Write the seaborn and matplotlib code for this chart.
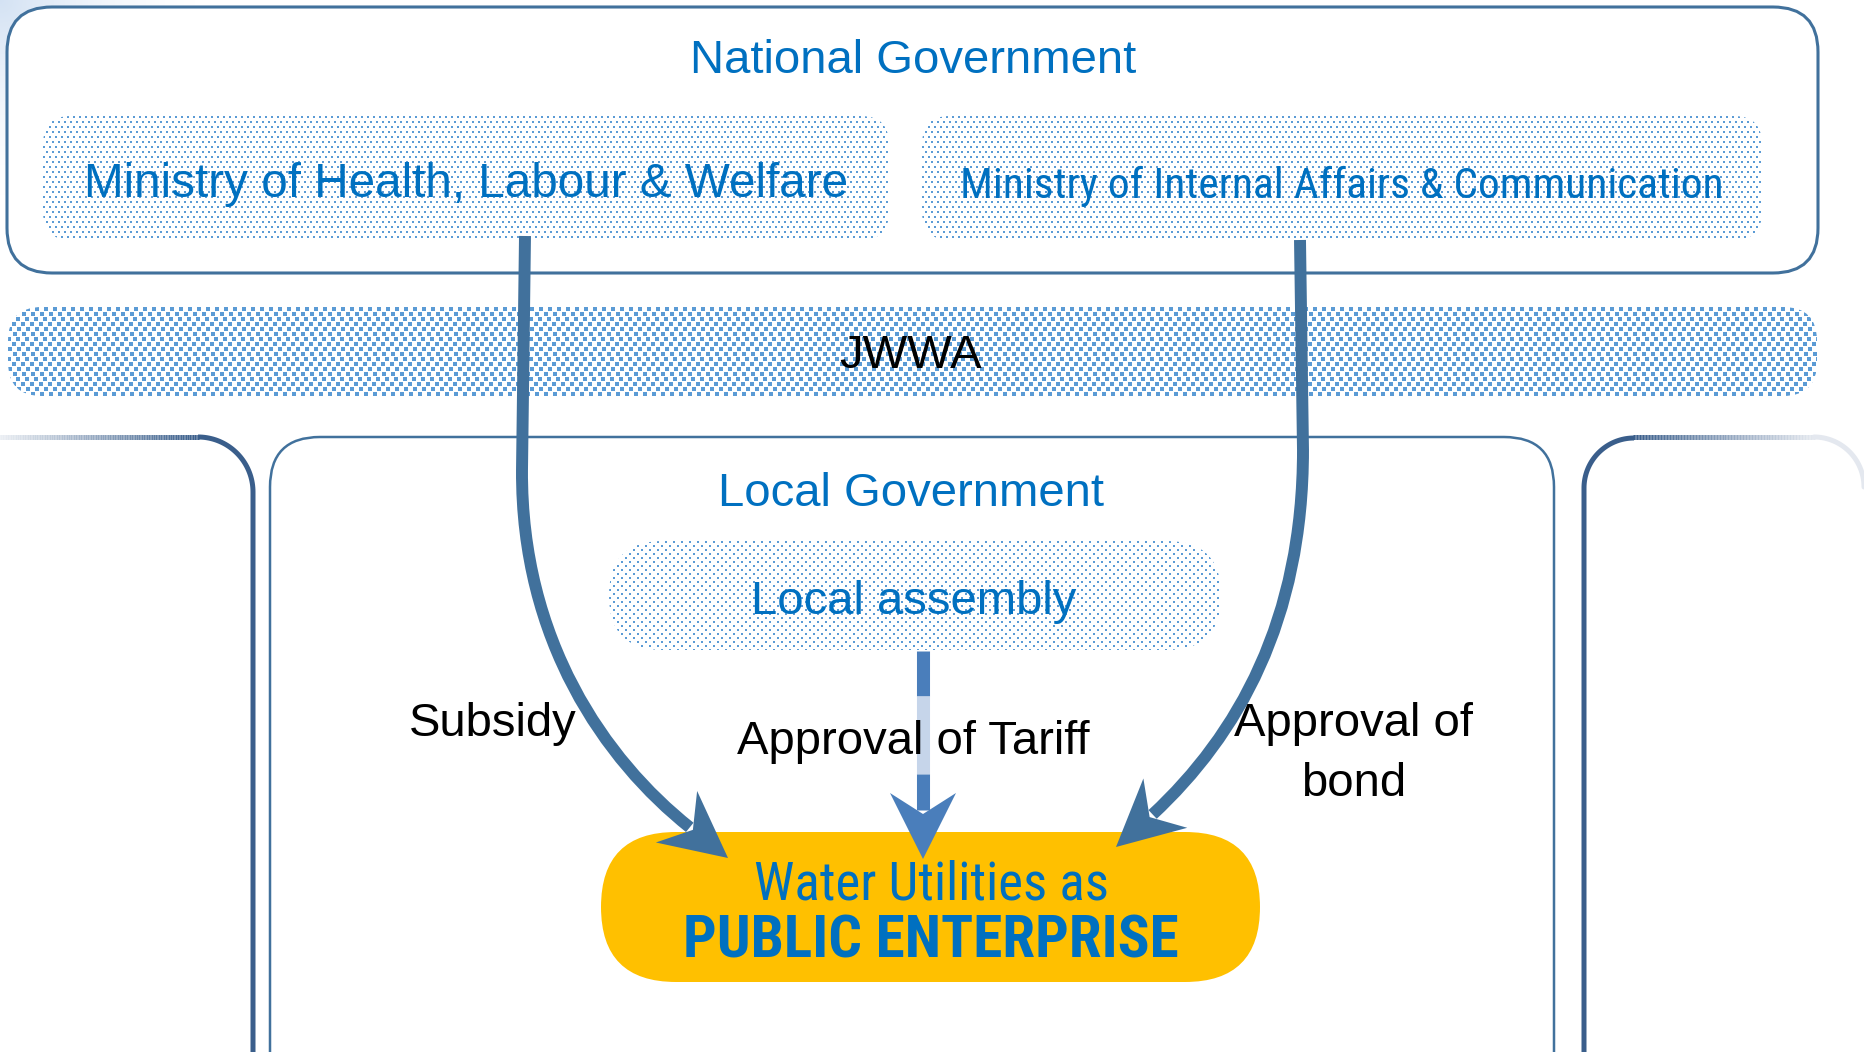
import numpy as np
import matplotlib
matplotlib.use("Agg")
import matplotlib.pyplot as plt
import seaborn as sns
from matplotlib import font_manager
from matplotlib.patches import FancyBboxPatch, Polygon, PathPatch
from matplotlib.path import Path
from matplotlib.collections import LineCollection

# texts of the diagram
national_title = "National Government"
ministries = ["Ministry of Health, Labour & Welfare",
              "Ministry of Internal Affairs & Communication"]
association = "JWWA"
local_title = "Local Government"
assembly = "Local assembly"
utility_lines = ["Water Utilities as", "PUBLIC ENTERPRISE"]
flow_labels = ["Subsidy", "Approval of Tariff", "Approval of\nbond"]

# colours
blue_text = "#0070c0"
frame_col = "#41719c"
dot_col = "#5b9bd5"
arrow_col = "#41719c"
mid_dark = "#4a7ebb"
mid_light = "#c6d5ea"
gold = "#ffc000"
side_dark = "#3a5e8b"

sns.set_theme(style="white")
plt.rcParams["font.family"] = ["Liberation Sans", "DejaVu Sans"]

# a narrow face if one is installed, otherwise the regular one squeezed by size
installed = {f.name for f in font_manager.fontManager.ttflist}
NARROW = ["Liberation Sans"]
for cand in ["Liberation Sans Narrow", "Arial Narrow", "Roboto Condensed", "Open Sans Condensed"]:
    if cand in installed:
        NARROW = [cand, "Liberation Sans"]
        break

fig = plt.figure(figsize=(18.64, 10.52), dpi=100)
ax = fig.add_axes([0, 0, 1, 1])


def rbox(x0, y0, x1, y1, r, **kw):
    p = FancyBboxPatch((x0, y0), x1 - x0, y1 - y0,
                       boxstyle=f"round,pad=0,rounding_size={r}", **kw)
    ax.add_patch(p)
    return p


def texture(w, h, kind):
    yy, xx = np.mgrid[0:h, 0:w]
    if kind == "dots":
        row = yy // 5
        on = ((yy % 5) < 2) & (((xx + 3 * (row % 2)) % 6) < 2)
    elif kind == "fine":
        row = yy // 4
        on = ((yy % 4) < 2) & (((xx + 4 * (row % 2)) % 8) < 2)
    else:
        row = yy // 5
        on = ((yy % 5) < 4) & (((xx + 4 * (row % 2) + (row // 2) % 2) % 9) < 4)
    img = np.zeros((h, w, 4))
    img[on] = matplotlib.colors.to_rgba(dot_col)
    return img


def patterned(x0, y0, x1, y1, r, kind, z=2):
    p = rbox(x0, y0, x1, y1, r, fc="white", ec="none", zorder=z)
    im = ax.imshow(texture(int(x1 - x0), int(y1 - y0), kind),
                   extent=(x0, x1, y1, y0), interpolation="nearest", zorder=z + 0.1)
    im.set_clip_path(p)


def head(tip, d, color, length=66, half=33, notch=45):
    d = np.asarray(d, float)
    d /= np.hypot(*d)
    p = np.array([-d[1], d[0]])
    tip = np.asarray(tip, float)
    base = tip - length * d
    ax.add_patch(Polygon([tip, base + half * p, tip - notch * d, base - half * p],
                         closed=True, fc=color, ec="none", zorder=6))
    return tip - (notch + 4) * d


# soft glow in the top-left corner
gy, gx = np.mgrid[0:220, 0:220]
glow = np.zeros((220, 220, 4))
glow[..., :3] = matplotlib.colors.to_rgb("#c9dbf1")
glow[..., 3] = np.clip(1 - np.hypot(gx, gy) / 200, 0, 1) ** 1.5 * 0.8
ax.imshow(glow, extent=(0, 220, 220, 0), zorder=0)

# national government frame
rbox(7, 7, 1818, 273, 45, fc="white", ec=frame_col, lw=2.2, zorder=1)
patterned(43, 116, 889, 240, 28, "dots")
patterned(922, 116, 1762, 240, 28, "dots")

# JWWA band
patterned(8, 307, 1817, 396, 34, "squares")

# local government frame
rbox(270, 437, 1554, 1120, 50, fc="white", ec=frame_col, lw=1.8, zorder=1)
patterned(609, 541, 1221, 650, 54, "fine")


# side frames, top edges fading outwards
def fade_line(x0, x1, y, c0, c1, n=120):
    xs = np.linspace(x0, x1, n + 1)
    segs = [[(xs[i], y), (xs[i + 1], y)] for i in range(n)]
    cols = sns.blend_palette([c0, c1], n)
    ax.add_collection(LineCollection(segs, colors=cols, linewidths=3.6,
                                     capstyle="butt", zorder=2))


r = 55
t = np.linspace(0, np.pi / 2, 40)
ax.plot(np.r_[198 + r * np.sin(t), 253], np.r_[492 - r * np.cos(t), 1100],
        color=side_dark, lw=3.6, solid_capstyle="butt", zorder=2)
fade_line(-5, 199, 437, "#eef1f5", side_dark)

r = 50
ax.plot(np.r_[1584, 1634 - r * np.sin(t[::-1])], np.r_[1100, 488 - r * np.cos(t[::-1])],
        color=side_dark, lw=3.6, solid_capstyle="butt", zorder=2)
fade_line(1633, 1815, 437, side_dark, "#e4e8ef")
ax.plot(1814 + r * np.sin(t), 487 - r * np.cos(t), color="#e4e8ef", lw=3.6, zorder=2)

# utility pill
rbox(601, 832, 1260, 982, 75, fc=gold, ec="none", zorder=3)

# curved arrows
end_l = head((728, 858), (0.78, 0.625), arrow_col)
path_l = Path([(525, 236), (522, 470), (521, 640), (605, 760), tuple(end_l)],
              [Path.MOVETO, Path.LINETO, Path.CURVE4, Path.CURVE4, Path.CURVE4])
ax.add_patch(PathPatch(path_l, fc="none", ec=arrow_col, lw=8.6, capstyle="butt", zorder=5))

end_r = head((1116, 847), (-0.75, 0.667), arrow_col)
path_r = Path([(1300, 240), (1303, 450), (1303, 620), (1238, 735), tuple(end_r)],
              [Path.MOVETO, Path.LINETO, Path.CURVE4, Path.CURVE4, Path.CURVE4])
ax.add_patch(PathPatch(path_r, fc="none", ec=arrow_col, lw=8.6, capstyle="butt", zorder=5))

# straight tariff arrow
end_m = head((923, 859), (0, 1), mid_dark)
ax.plot([923, 923], [651, 696], color=mid_dark, lw=9.4, solid_capstyle="butt", zorder=5)
ax.plot([923, 923], [696, 774], color=mid_light, lw=9.4, solid_capstyle="butt", zorder=5)
ax.plot([923, 923], [774, end_m[1]], color=mid_dark, lw=9.4, solid_capstyle="butt", zorder=5)

# texts
ax.text(913, 73, national_title, color=blue_text, fontsize=34, ha="center", va="baseline", zorder=7)
ax.text(466, 197, ministries[0], color=blue_text, fontsize=34.3, ha="center", va="baseline", zorder=7)
t_min = ax.text(1342, 198, ministries[1], color=blue_text, fontsize=34.3, family=NARROW,
                ha="center", va="baseline", zorder=7)
ax.text(911, 368, association, color="black", fontsize=34, ha="center", va="baseline", zorder=7)
ax.text(911, 506, local_title, color=blue_text, fontsize=34, ha="center", va="baseline", zorder=7)
ax.text(914, 614, assembly, color=blue_text, fontsize=34, ha="center", va="baseline", zorder=7)
t_wat = ax.text(931, 900, utility_lines[0], color=blue_text, fontsize=41.5, family=NARROW,
                ha="center", va="baseline", zorder=7)
t_pub = ax.text(931, 957, utility_lines[1], color=blue_text, fontsize=42, family=NARROW,
                fontweight="bold", ha="center", va="baseline", zorder=7)

label_pos = [(493, 736), (913, 754), (1354, 736)]
for lab, (x, y) in zip(flow_labels, label_pos):
    for k, line in enumerate(lab.split("\n")):
        ax.text(x, y + 60 * k, line, color="black", fontsize=34, ha="center",
                va="baseline", zorder=7)

ax.set_xlim(0, 1864)
ax.set_ylim(1052, 0)
ax.set_aspect("auto")
ax.axis("off")

# fit the narrow-face texts to the widths they take in the original
fig.canvas.draw()
renderer = fig.canvas.get_renderer()
for txt, width in [(t_min, 763), (t_wat, 355), (t_pub, 497)]:
    w = txt.get_window_extent(renderer).width
    txt.set_fontsize(min(txt.get_fontsize() * width / w, txt.get_fontsize() * 1.15))

fig.savefig("out.png", dpi=100, facecolor="white")
